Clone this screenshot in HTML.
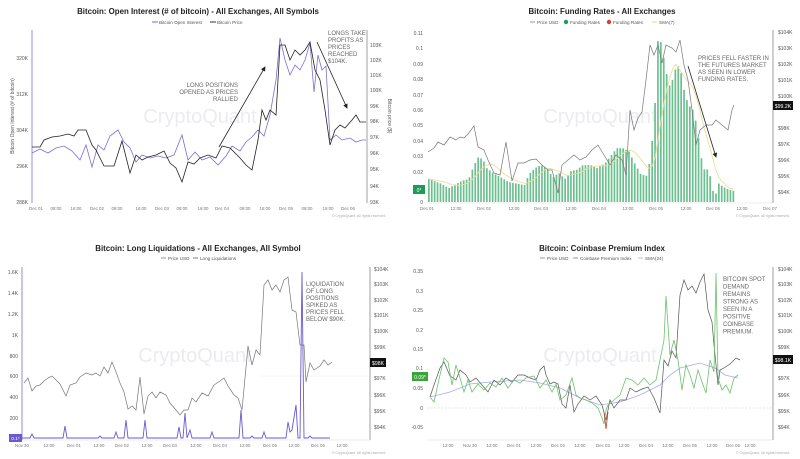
<!DOCTYPE html>
<html><head><meta charset="utf-8"><style>
html,body{margin:0;padding:0;background:#fff;width:800px;height:459px;overflow:hidden}
svg{display:block;font-family:"Liberation Sans",sans-serif}
.t{font-weight:bold;font-size:7.9px;fill:#222;text-anchor:middle}
.lg{font-size:4.6px;fill:#555}
.ax{font-size:5px;fill:#555}
.xa{font-size:4.4px;fill:#777;text-anchor:middle}
.an{font-size:6px;fill:#666}
.wm{font-size:20px;fill:#ececf0;text-anchor:middle}
.cp{font-size:3.5px;fill:#aaa;text-anchor:end}
</style></head><body>
<svg id="s" width="800" height="459" viewBox="0 0 800 459" xmlns="http://www.w3.org/2000/svg">
<defs><marker id="ah" markerWidth="6" markerHeight="6" refX="5" refY="3" orient="auto"><path d="M0,0 L6,3 L0,6 z" fill="#222"/></marker></defs>

<!-- Panel 1 -->
<text class="wm" x="200" y="123">CryptoQuant</text>
<text class="t" x="198" y="14">Bitcoin: Open Interest (# of bitcoin) - All Exchanges, All Symbols</text>
<line x1="152" y1="22" x2="158" y2="22" stroke="#7b6fd0"/><text class="lg" x="159" y="24">Bitcoin Open Interest</text>
<line x1="210" y1="22" x2="216" y2="22" stroke="#333"/><text class="lg" x="217" y="24">Bitcoin Price</text>
<line x1="32" y1="30" x2="32" y2="203" stroke="#7b6fd0" stroke-width="0.8"/>
<line x1="367" y1="30" x2="367" y2="203" stroke="#888" stroke-width="0.8"/>
<g class="ax" text-anchor="end"><text x="28" y="60">320K</text><text x="28" y="96">312K</text><text x="28" y="132">304K</text><text x="28" y="168">296K</text><text x="28" y="204">288K</text></g>
<g class="ax"><text x="370" y="47">103K</text><text x="370" y="62">102K</text><text x="370" y="77">101K</text><text x="370" y="92">100K</text><text x="370" y="108">99K</text><text x="370" y="123">98K</text><text x="370" y="139">97K</text><text x="370" y="155">96K</text><text x="370" y="171">95K</text><text x="370" y="188">94K</text><text x="370" y="204">93K</text></g>
<text class="ax" transform="translate(14,116) rotate(-90)" text-anchor="middle" font-size="4.5">Bitcoin Open Interest (# of bitcoin)</text>
<text class="ax" transform="translate(388,116) rotate(90)" text-anchor="middle" font-size="4.5">Bitcoin price ($)</text>
<g class="xa"><text x="36" y="210">Dec 01</text><text x="56" y="210">08:00</text><text x="76" y="210">16:00</text><text x="97" y="210">Dec 02</text><text x="117" y="210">08:00</text><text x="141" y="210">16:00</text><text x="162" y="210">Dec 03</text><text x="182" y="210">08:00</text><text x="203" y="210">16:00</text><text x="222" y="210">Dec 04</text><text x="245" y="210">08:00</text><text x="265" y="210">16:00</text><text x="286" y="210">Dec 05</text><text x="307" y="210">08:00</text><text x="328" y="210">16:00</text><text x="348" y="210">Dec 06</text></g>
<text class="cp" x="386" y="217">© CryptoQuant. All rights reserved.</text>
<polyline fill="none" stroke="#7b6fd0" stroke-width="0.8" points="32,153 40,149 48,153 56,148 64,146 72,151 80,160 86,145 92,167 98,145 104,150 110,136 118,130 124,142 130,148 136,162 142,155 150,158 158,156 166,158 174,155 182,135 188,160 195,152 202,160 210,157 218,165 226,156 232,146 240,151 246,142 252,137 258,130 264,136 270,115 276,80 280,38 285,60 290,75 295,65 300,70 305,60 310,43 314,92 318,55 322,70 326,66 330,140 336,135 342,140 350,138 356,142 362,140 366,140"/>
<polyline fill="none" stroke="#222" stroke-width="0.8" points="32,147 40,147 44,140 52,137 60,136 68,134 74,136 78,130 86,130 92,145 96,150 104,166 114,166 122,141 130,173 136,155 142,160 148,157 156,155 164,151 170,163 176,168 182,182 188,162 194,164 200,158 208,155 216,158 222,146 230,148 240,158 246,165 252,170 258,140 262,110 266,120 270,110 276,115 280,45 285,45 290,60 295,50 300,55 305,50 310,42 315,70 320,80 325,110 330,145 335,130 340,125 345,128 352,120 356,115 360,122 366,122"/>
<g class="an" text-anchor="end"><text x="238" y="87">LONG POSITIONS</text><text x="238" y="94">OPENED AS PRICES</text><text x="238" y="101">RALLIED</text></g>
<line x1="219" y1="147" x2="265" y2="67" stroke="#222" stroke-width="0.8" marker-end="url(#ah)"/>
<g class="an"><text x="328" y="35">LONGS TAKE</text><text x="328" y="42">PROFITS AS</text><text x="328" y="49">PRICES</text><text x="328" y="56">REACHED</text><text x="328" y="63">$104K.</text></g>
<line x1="317" y1="42" x2="347" y2="108" stroke="#222" stroke-width="0.8" marker-end="url(#ah)"/>

<!-- Panel 2 -->
<text class="wm" x="600" y="123">CryptoQuant</text>
<text class="t" x="602" y="14">Bitcoin: Funding Rates - All Exchanges</text>
<line x1="530" y1="22" x2="535" y2="22" stroke="#999"/><text class="lg" x="537" y="24">Price USD</text>
<circle cx="566" cy="22" r="2.2" fill="#1e9a5a"/><text class="lg" x="570" y="24">Funding Rates</text>
<circle cx="609" cy="22" r="2.2" fill="#e03a2f"/><text class="lg" x="613" y="24">Funding Rates</text>
<line x1="652" y1="22" x2="657" y2="22" stroke="#e8d68a"/><text class="lg" x="659" y="24">SMA(7)</text>
<line x1="773" y1="30" x2="773" y2="203" stroke="#888" stroke-width="0.8"/>
<line x1="427" y1="203" x2="772" y2="203" stroke="#ddd" stroke-width="0.5"/>
<g class="ax" text-anchor="end"><text x="423" y="35">0.11</text><text x="423" y="50">0.1</text><text x="423" y="66">0.09</text><text x="423" y="81">0.08</text><text x="423" y="97">0.07</text><text x="423" y="112">0.06</text><text x="423" y="127">0.05</text><text x="423" y="143">0.04</text><text x="423" y="158">0.03</text><text x="423" y="174">0.02</text><text x="423" y="189">0.01</text><text x="423" y="204">0</text></g>
<g class="ax"><text x="778" y="34">$104K</text><text x="778" y="50">$103K</text><text x="778" y="66">$102K</text><text x="778" y="82">$101K</text><text x="778" y="98">$100K</text><text x="778" y="130">$98K</text><text x="778" y="146">$97K</text><text x="778" y="162">$96K</text><text x="778" y="178">$95K</text><text x="778" y="194">$94K</text></g>
<rect x="773" y="101" width="20" height="9" fill="#111"/><text x="783" y="108" font-size="5.2" fill="#fff" text-anchor="middle">$99.2K</text>
<rect x="413" y="185" width="12" height="9" fill="#1e9a5a"/><text x="419" y="192" font-size="5" fill="#fff" text-anchor="middle">0*</text>
<g class="xa"><text x="427" y="210">Dec 01</text><text x="456" y="210">12:00</text><text x="484" y="210">Dec 02</text><text x="514" y="210">12:00</text><text x="541" y="210">Dec 03</text><text x="571" y="210">12:00</text><text x="599" y="210">Dec 04</text><text x="628" y="210">12:00</text><text x="656" y="210">Dec 05</text><text x="686" y="210">12:00</text><text x="713" y="210">Dec 06</text><text x="742" y="210">12:00</text><text x="770" y="210">Dec 07</text></g>
<text class="cp" x="790" y="217">© CryptoQuant. All rights reserved.</text>
<g id="bars"></g>
<polyline id="sma" fill="none" stroke="#eedd99" stroke-width="0.9"/>
<polyline fill="none" stroke="#777" stroke-width="0.7" points="428,152 434,148 438,142 444,145 450,137 456,140 460,137 464,138 468,134 474,126 478,147 484,150 488,160 494,173 500,175 506,142 512,181 518,163 524,163 530,160 536,159 542,165 548,170 552,170 558,193 562,165 568,160 574,155 580,160 586,157 592,150 598,145 604,155 610,165 616,155 622,160 626,175 630,110 634,130 638,118 642,112 646,80 650,45 654,55 658,45 662,63 666,45 672,48 676,52 680,40 684,65 688,80 692,110 696,145 700,130 706,125 712,125 716,120 722,125 728,130 732,110 734,105"/>
<g class="an"><text x="698" y="60">PRICES FELL FASTER IN</text><text x="698" y="67">THE FUTURES MARKET</text><text x="698" y="74">AS SEEN IN LOWER</text><text x="698" y="81">FUNDING RATES.</text></g>
<line x1="688" y1="66" x2="716" y2="157" stroke="#222" stroke-width="0.8" marker-end="url(#ah)"/>

<!-- Panel 3 -->
<text class="wm" x="195" y="362">CryptoQuant</text>
<text class="t" x="198" y="251">Bitcoin: Long Liquidations - All Exchanges, All Symbol</text>
<line x1="161" y1="258" x2="166" y2="258" stroke="#999"/><text class="lg" x="168" y="260">Price USD</text>
<line x1="193" y1="258" x2="198" y2="258" stroke="#7b6fd0"/><text class="lg" x="200" y="260">Long Liquidations</text>
<line x1="22" y1="267" x2="22" y2="440" stroke="#7b6fd0" stroke-width="0.8"/>
<line x1="370" y1="267" x2="370" y2="440" stroke="#888" stroke-width="0.8"/>
<line x1="22" y1="440" x2="370" y2="440" stroke="#ddd" stroke-width="0.5"/>
<line x1="260" y1="376" x2="368" y2="376" stroke="#eee" stroke-width="0.5"/>
<g class="ax" text-anchor="end"><text x="18" y="274">1.6K</text><text x="18" y="295">1.4K</text><text x="18" y="316">1.2K</text><text x="18" y="337">1K</text><text x="18" y="358">800</text><text x="18" y="378">600</text><text x="18" y="399">400</text><text x="18" y="420">200</text></g>
<rect x="9" y="434" width="13" height="8" fill="#6a5acd"/><text x="15.5" y="440" font-size="4.8" fill="#fff" text-anchor="middle">0.1*</text>
<g class="ax"><text x="374" y="271">$104K</text><text x="374" y="286">$103K</text><text x="374" y="302">$102K</text><text x="374" y="317">$101K</text><text x="374" y="333">$100K</text><text x="374" y="349">$99K</text><text x="374" y="380">$97K</text><text x="374" y="397">$96K</text><text x="374" y="413">$95K</text><text x="374" y="429">$94K</text></g>
<rect x="370" y="358" width="16" height="9" fill="#111"/><text x="378" y="365" font-size="5.2" fill="#fff" text-anchor="middle">$98K</text>
<g class="xa"><text x="22" y="447">Nov 30</text><text x="49" y="447">12:00</text><text x="74" y="447">Dec 01</text><text x="99" y="447">12:00</text><text x="122" y="447">Dec 02</text><text x="147" y="447">12:00</text><text x="170" y="447">Dec 03</text><text x="196" y="447">12:00</text><text x="220" y="447">Dec 04</text><text x="245" y="447">12:00</text><text x="270" y="447">Dec 05</text><text x="294" y="447">12:00</text><text x="318" y="447">Dec 06</text><text x="342" y="447">12:00</text></g>
<text class="cp" x="386" y="454">© CryptoQuant. All rights reserved.</text>
<polyline fill="none" stroke="#777" stroke-width="0.7" points="24,383 28,378 32,391 36,386 40,385 44,381 48,378 52,376 56,380 60,384 66,396 70,385 76,383 80,377 86,373 92,375 96,373 100,376 104,367 108,373 112,362 116,372 120,383 124,392 128,409 132,406 136,410 140,377 144,414 148,396 152,392 156,398 160,392 166,395 170,403 176,410 180,415 184,410 188,410 192,398 196,402 202,393 208,396 214,385 220,381 224,378 228,386 234,395 238,398 242,410 248,346 252,365 256,350 260,355 264,285 268,280 272,290 276,285 280,292 284,280 288,277 292,310 296,312 300,345 304,345 306,382 310,363 314,370 320,366 324,360 328,365 332,362"/>
<polyline fill="none" stroke="#6a5acd" stroke-width="0.9" points="22,438 30,438 32,434 34,438 63,438 65,426 67,438 98,438 100,436 102,438 114,438 116,432 118,438 124,438 126,420 128,438 143,438 145,420 147,438 177,438 179,427 181,438 183,438 185,413 187,438 190,430 192,438 210,438 212,432 214,438 239,438 241,410 243,438 250,438 252,436 254,438 262,438 264,432 266,438 286,438 288,422 290,432 292,430 296,405 298,438 300,438 302,272 304,438 308,438 310,436 312,438 330,438"/>
<g class="an"><text x="306" y="286">LIQUIDATION</text><text x="306" y="293">OF LONG</text><text x="306" y="300">POSITIONS</text><text x="306" y="307">SPIKED AS</text><text x="306" y="314">PRICES FELL</text><text x="306" y="321">BELOW $90K.</text></g>

<!-- Panel 4 -->
<text class="wm" x="600" y="362">CryptoQuant</text>
<text class="t" x="602" y="251">Bitcoin: Coinbase Premium Index</text>
<line x1="540" y1="258" x2="545" y2="258" stroke="#999"/><text class="lg" x="547" y="260">Price USD</text>
<line x1="573" y1="258" x2="578" y2="258" stroke="#8888cc"/><text class="lg" x="580" y="260">Coinbase Premium Index</text>
<line x1="638" y1="258" x2="643" y2="258" stroke="#bbbbee"/><text class="lg" x="645" y="260">SMA(24)</text>
<line x1="773" y1="267" x2="773" y2="440" stroke="#888" stroke-width="0.8"/>
<line x1="427" y1="440" x2="772" y2="440" stroke="#ddd" stroke-width="0.5"/>
<line x1="427" y1="408" x2="772" y2="408" stroke="#ccc" stroke-width="0.5" stroke-dasharray="2,1.5"/>
<g class="ax" text-anchor="end"><text x="423" y="273">0.35</text><text x="423" y="293">0.3</text><text x="423" y="312">0.25</text><text x="423" y="332">0.2</text><text x="423" y="351">0.15</text><text x="423" y="370">0.1</text><text x="423" y="390">0.05</text><text x="423" y="410">0</text><text x="423" y="429">-0.05</text></g>
<rect x="412" y="372" width="16" height="9" fill="#3aa63a"/><text x="420" y="379" font-size="5" fill="#fff" text-anchor="middle">0.09*</text>
<g class="ax"><text x="778" y="271">$104K</text><text x="778" y="286">$103K</text><text x="778" y="302">$102K</text><text x="778" y="317">$101K</text><text x="778" y="333">$100K</text><text x="778" y="349">$99K</text><text x="778" y="380">$97K</text><text x="778" y="397">$96K</text><text x="778" y="413">$95K</text><text x="778" y="429">$94K</text></g>
<rect x="773" y="355" width="20" height="9" fill="#111"/><text x="783" y="362" font-size="5.2" fill="#fff" text-anchor="middle">$98.1K</text>
<g class="xa"><text x="448" y="447">12:00</text><text x="470" y="447">Nov 30</text><text x="492" y="447">12:00</text><text x="514" y="447">Dec 01</text><text x="536" y="447">12:00</text><text x="558" y="447">Dec 02</text><text x="580" y="447">12:00</text><text x="603" y="447">Dec 03</text><text x="624" y="447">12:00</text><text x="646" y="447">Dec 04</text><text x="668" y="447">12:00</text><text x="690" y="447">Dec 05</text><text x="712" y="447">12:00</text><text x="733" y="447">Dec 06</text><text x="750" y="447">12:00</text></g>
<text class="cp" x="790" y="454">© CryptoQuant. All rights reserved.</text>
<polyline fill="none" stroke="#aaaaee" stroke-width="0.8" points="430,397 450,392 470,384 490,382 520,380 540,383 560,388 580,398 600,405 620,402 640,395 660,385 670,375 680,368 700,363 715,368 725,375 738,378"/>
<polyline fill="none" stroke="#555" stroke-width="0.7" points="430,397 434,385 440,368 444,362 450,376 456,380 460,370 466,375 470,382 476,378 482,385 488,392 494,380 500,385 506,378 512,382 518,375 524,375 530,378 536,380 540,370 544,366 546,375 550,384 554,382 558,384 562,404 566,408 570,385 574,412 578,404 584,396 590,400 596,396 602,405 606,420 610,400 614,408 620,400 626,400 630,388 636,392 642,389 648,387 654,398 660,413 664,360 668,366 672,351 676,358 680,295 684,280 688,290 692,286 696,293 700,282 704,274 708,310 712,322 714,345 718,385 720,370 724,368 730,364 736,358 740,360"/>
<polyline fill="none" stroke="#6cc26c" stroke-width="0.8" points="430,397 434,402 440,375 444,358 448,362 452,385 456,365 460,378 464,392 468,380 472,392 478,384 484,390 490,383 496,387 502,378 508,388 514,380 520,383 526,378 534,376 540,388 546,380 552,392 556,384 560,400 566,395 572,378 576,395 580,398 586,400 592,403 598,408 602,418 604,424 606,410 608,405 614,400 620,395 626,378 632,380 638,385 644,378 650,385 656,380 660,360 664,340 666,296 670,355 674,340 678,360 682,390 686,365 690,375 694,388 698,370 702,382 706,393 710,360 714,372 716,273 718,378 722,390 726,385 730,393 734,378 738,375"/>
<polyline fill="none" stroke="#c0392b" stroke-width="0.8" points="604,412 606,429 608,412"/>
<g class="an"><text x="723" y="281">BITCOIN SPOT</text><text x="723" y="288.5">DEMAND</text><text x="723" y="296">REMAINS</text><text x="723" y="303.5">STRONG AS</text><text x="723" y="311">SEEN IN A</text><text x="723" y="318.5">POSITIVE</text><text x="723" y="326">COINBASE</text><text x="723" y="333.5">PREMIUM.</text></g>
</svg>
<script>
(function(){
var k=[[428,.015],[440,.012],[448,.009],[456,.012],[462,.014],[468,.015],[472,.022],[477,.029],[482,.028],[486,.022],[492,.019],[500,.016],[508,.013],[516,.012],[524,.011],[528,.018],[534,.022],[540,.024],[546,.022],[552,.016],[558,.019],[564,.015],[570,.02],[576,.021],[582,.024],[590,.024],[596,.022],[604,.025],[610,.03],[616,.035],[622,.035],[628,.033],[634,.025],[640,.018],[646,.017],[650,.03],[654,.06],[656,.105],[660,.104],[664,.09],[668,.075],[672,.08],[676,.09],[680,.085],[684,.07],[688,.063],[692,.06],[696,.05],[700,.03],[704,.02],[708,.022],[711,.01],[714,.003],[718,.012],[722,.01],[728,.008],[735,.007]];
function f(x){for(var i=0;i<k.length-1;i++){if(x<=k[i+1][0]){var t=(x-k[i][0])/(k[i+1][0]-k[i][0]);return k[i][1]+t*(k[i+1][1]-k[i][1]);}}return k[k.length-1][1];}
var g=document.getElementById('bars'),ns='http://www.w3.org/2000/svg',vals=[],xs=[];
for(var x=428;x<=735;x+=2.9){var v=f(x);vals.push(v);xs.push(x);var h=v/0.11*169;var r=document.createElementNS(ns,'rect');r.setAttribute('x',x);r.setAttribute('y',202-h);r.setAttribute('width',1.7);r.setAttribute('height',h);r.setAttribute('fill','#6cc090');g.appendChild(r);}
var pts=[];for(var i=0;i<vals.length;i++){var s=0,n=0;for(var j=Math.max(0,i-6);j<=i;j++){s+=vals[j];n++;}pts.push((xs[i]+1).toFixed(1)+','+(202-s/n/0.11*169).toFixed(1));}
document.getElementById('sma').setAttribute('points',pts.join(' '));
})();
</script>
</body></html>
